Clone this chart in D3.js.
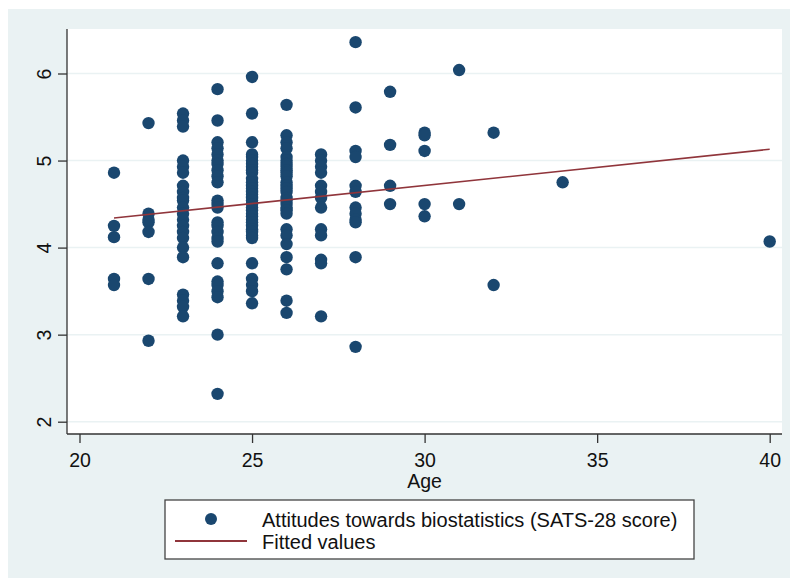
<!DOCTYPE html>
<html lang="en">
<head>
  <meta charset="UTF-8" />
  <title>SATS-28 score by age</title>
  <style>
    body { margin: 0; background: #fff; }
    svg { display: block; }
  </style>
  <script src="https://cdn.jsdelivr.net/npm/d3@7"></script>
</head>
<body>
<script>
  // scores, one array per age
  const scoresByAge = {
    21: [4.86, 4.25, 4.12, 3.64, 3.57],
    22: [5.43, 4.39, 4.32, 4.29, 4.18, 3.64, 2.93],
    23: [5.54, 5.46, 5.39, 5.00, 4.93, 4.86, 4.71, 4.64, 4.57, 4.54, 4.46, 4.39, 4.32, 4.25, 4.18, 4.11, 4.00, 3.89, 3.46, 3.39, 3.32, 3.21],
    24: [5.82, 5.46, 5.21, 5.14, 5.07, 5.00, 4.96, 4.89, 4.82, 4.75, 4.54, 4.50, 4.46, 4.29, 4.25, 4.18, 4.11, 4.07, 3.82, 3.61, 3.57, 3.50, 3.43, 3.00, 2.32],
    25: [5.96, 5.54, 5.21, 5.07, 5.04, 5.00, 4.96, 4.93, 4.89, 4.86, 4.79, 4.75, 4.71, 4.68, 4.64, 4.61, 4.57, 4.54, 4.50, 4.46, 4.43, 4.39, 4.36, 4.32, 4.29, 4.25, 4.21, 4.18, 4.14, 4.11, 3.82, 3.64, 3.57, 3.50, 3.36],
    26: [5.64, 5.29, 5.21, 5.14, 5.04, 5.00, 4.96, 4.93, 4.89, 4.86, 4.82, 4.75, 4.71, 4.68, 4.64, 4.57, 4.54, 4.50, 4.46, 4.43, 4.39, 4.21, 4.14, 4.04, 3.89, 3.75, 3.39, 3.25],
    27: [5.07, 5.00, 4.93, 4.86, 4.71, 4.64, 4.57, 4.46, 4.21, 4.14, 3.86, 3.82, 3.21],
    28: [6.36, 5.61, 5.11, 5.04, 4.71, 4.64, 4.46, 4.39, 4.32, 4.29, 3.89, 2.86],
    29: [5.79, 5.18, 4.71, 4.50],
    30: [5.32, 5.29, 5.11, 4.50, 4.36],
    31: [6.04, 4.50],
    32: [5.32, 3.57],
    34: [4.75],
    40: [4.07]
  };
  const fitAges = [21, 40];
  const fitValues = [4.34, 5.13];
  const xTicks = [20, 25, 30, 35, 40];
  const yTicks = [2, 3, 4, 5, 6];
  const legendLabels = ["Attitudes towards biostatistics (SATS-28 score)", "Fitted values"];

  const navy = "#1a476f", maroon = "#90353b", bluish = "#eaf2f3";
  const font = "'Liberation Sans', Arial, sans-serif";

  const points = [];
  Object.keys(scoresByAge).forEach(a => {
    scoresByAge[a].forEach(s => points.push({ age: +a, score: s }));
  });

  const svg = d3.select("body").append("svg")
    .attr("width", 790).attr("height", 578);

  // graph region + plot region
  svg.append("rect").attr("x", 8).attr("y", 9).attr("width", 782).attr("height", 569)
    .attr("fill", bluish);
  const plot = { left: 67, right: 782, top: 29, bottom: 434 };
  svg.append("rect").attr("x", plot.left).attr("y", plot.top)
    .attr("width", plot.right - plot.left).attr("height", plot.bottom - plot.top)
    .attr("fill", "#fff");

  const x = d3.scaleLinear().domain([20, 40]).range([79.5, 769.7]);
  const y = d3.scaleLinear().domain([2, 6]).range([421.7, 73.5]);

  // grid
  svg.append("g").selectAll("line").data(yTicks).join("line")
    .attr("x1", plot.left).attr("x2", plot.right)
    .attr("y1", d => y(d)).attr("y2", d => y(d))
    .attr("stroke", bluish).attr("stroke-width", 1.5);

  // dots
  svg.append("g").selectAll("circle").data(points).join("circle")
    .attr("cx", d => x(d.age)).attr("cy", d => y(d.score))
    .attr("r", 6.2).attr("fill", navy);

  // fitted line
  const fit = fitAges.map((a, i) => [a, fitValues[i]]);
  svg.append("path").datum(fit)
    .attr("d", d3.line().x(d => x(d[0])).y(d => y(d[1])))
    .attr("fill", "none").attr("stroke", maroon).attr("stroke-width", 1.6);

  // axes
  const xAxis = svg.append("g").attr("transform", `translate(0,${plot.bottom})`)
    .call(d3.axisBottom(x).tickValues(xTicks).tickSize(9).tickFormat(d3.format("d")));
  xAxis.select(".domain").attr("d", `M${plot.left},0H${plot.right}`);
  const yAxis = svg.append("g").attr("transform", `translate(${plot.left},0)`)
    .call(d3.axisLeft(y).tickValues(yTicks).tickSize(9).tickFormat(d3.format("d")));
  yAxis.select(".domain").attr("d", `M0,${plot.top}V${plot.bottom}`);

  [xAxis, yAxis].forEach(g => {
    g.select(".domain").attr("stroke", "#333").attr("stroke-width", 1.3);
    g.selectAll(".tick line").attr("stroke", "#333").attr("stroke-width", 1.3);
    g.selectAll("text").attr("font-family", font).attr("font-size", 19.5).attr("fill", "#111");
  });
  xAxis.selectAll("text").attr("dy", null).attr("y", 33);
  yAxis.selectAll(".tick text")
    .attr("x", null).attr("dy", null)
    .attr("text-anchor", "middle")
    .attr("transform", "translate(-16,0) rotate(-90)");

  svg.append("text").attr("x", x(30)).attr("y", 488)
    .attr("text-anchor", "middle").attr("font-family", font).attr("font-size", 19.5)
    .attr("fill", "#111").text("Age");

  // legend
  const lg = svg.append("g");
  lg.append("rect").attr("x", 165).attr("y", 500).attr("width", 529).attr("height", 59)
    .attr("fill", "#fff").attr("stroke", "#444").attr("stroke-width", 1.3);
  lg.append("circle").attr("cx", 211).attr("cy", 519).attr("r", 6).attr("fill", navy);
  lg.append("line").attr("x1", 175).attr("x2", 247).attr("y1", 541).attr("y2", 541)
    .attr("stroke", maroon).attr("stroke-width", 1.8);
  lg.selectAll("text.lab").data(legendLabels).join("text").attr("class", "lab")
    .attr("x", 262).attr("y", (d, i) => 527 + i * 21.5)
    .attr("font-family", font).attr("font-size", 20).attr("fill", "#111")
    .text(d => d);
</script>
</body>
</html>
